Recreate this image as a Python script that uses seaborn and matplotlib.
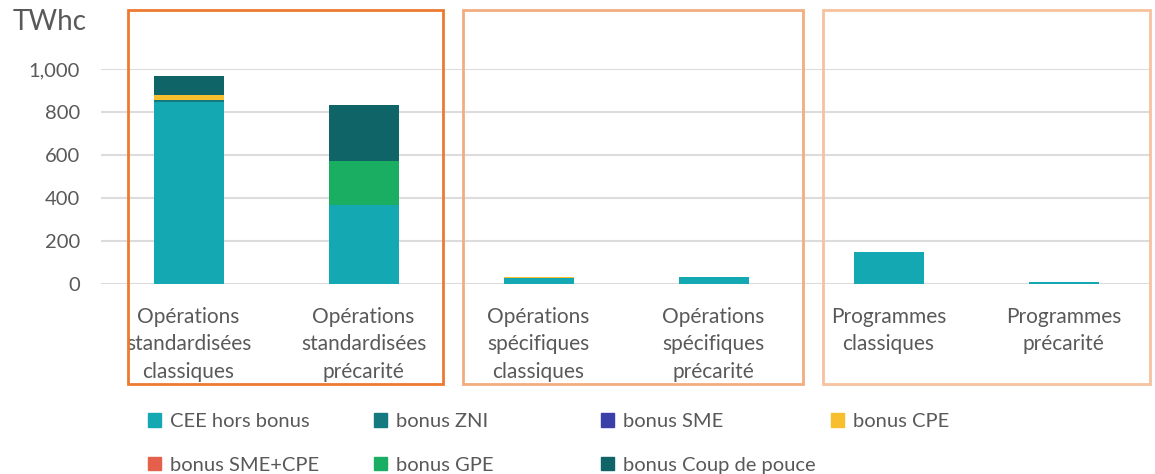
import seaborn as sns
import numpy as np
import pandas as pd
import matplotlib.pyplot as plt
from matplotlib.patches import Rectangle, Patch

# données (TWhc)
categories = ["Opérations\nstandardisées\nclassiques", "Opérations\nstandardisées\nprécarité",
              "Opérations\nspécifiques\nclassiques", "Opérations\nspécifiques\nprécarité",
              "Programmes\nclassiques", "Programmes\nprécarité"]
cee_hors_bonus = [848, 367, 28, 33, 150, 10]
bonus_zni = [8, 0, 0, 0, 0, 0]
bonus_sme = [0, 0, 0, 0, 0, 0]
bonus_cpe = [24, 0, 3, 0, 0, 0]
bonus_sme_cpe = [0, 0, 0, 0, 0, 0]
bonus_gpe = [0, 203, 0, 0, 0, 0]
bonus_coup_de_pouce = [88, 264, 0, 0, 0, 0]

series_names = ["CEE hors bonus", "bonus ZNI", "bonus SME", "bonus CPE",
                "bonus SME+CPE", "bonus GPE", "bonus Coup de pouce"]
series_values = [cee_hors_bonus, bonus_zni, bonus_sme, bonus_cpe,
                 bonus_sme_cpe, bonus_gpe, bonus_coup_de_pouce]
colors = ["#14a9b2", "#147a80", "#3b3fa8", "#f7bf2e", "#e5604a", "#1aae63", "#0f6467"]

df = pd.DataFrame(dict(zip(series_names, series_values)), index=categories)
cum = df.cumsum(axis=1)

plt.rcParams['font.family'] = ['Lato', 'DejaVu Sans']
grey = "#595959"

fig = plt.figure(figsize=(11.55, 4.74), dpi=100)
ax = fig.add_axes([101 / 1155, 1 - 284 / 474, 1050 / 1155, 215 / 474])

# empilement : on dessine les cumuls du haut vers le bas
for name, c in reversed(list(zip(series_names, colors))):
    sns.barplot(x=categories, y=cum[name].values, color=c, width=0.4,
                saturation=1, linewidth=0, errorbar=None, ax=ax, zorder=3)

ax.set_ylim(0, 1000)
ax.set_xlim(-0.5, 5.5)
ax.set_yticks(range(0, 1001, 200))
ax.set_yticklabels([f"{v:,}" for v in range(0, 1001, 200)])
ax.yaxis.grid(True, color="#dcdcdc", lw=1.5, zorder=0)
ax.set_axisbelow(True)
for s in ax.spines.values():
    s.set_visible(False)
ax.tick_params(axis="y", length=0, pad=15, labelsize=14.5, labelcolor=grey)
ax.tick_params(axis="x", length=0, pad=16.5, labelsize=15, labelcolor=grey)
for t in ax.get_xticklabels():
    t.set_linespacing(1.46)
ax.set_xlabel("")

fig.text(13 / 1155, 1 - 22 / 474, "TWhc", fontsize=20, color=grey, va="center", ha="left")

# cadres orange
boxes = [(128, 443, "#ec7a30"), (463, 803, "#f2ad80"), (823, 1150, "#f6c29e")]
for x0, x1, ec in boxes:
    fig.patches.append(Rectangle((x0 / 1155, 1 - 384 / 474), (x1 - x0) / 1155, 374 / 474,
                                 transform=fig.transFigure, fill=False, ec=ec, lw=2))

# légende en 4 colonnes
handles = [Patch(color=c, label=n) for n, c in zip(series_names, colors)]
col_x = [138, 364, 591, 821]
for i, x in enumerate(col_x):
    hs = [handles[i]] + ([handles[i + 4]] if i + 4 < len(handles) else [])
    fig.legend(handles=hs, loc="upper left", bbox_to_anchor=(x / 1155, 1 - 403 / 474),
               frameon=False, borderpad=0, handlelength=0.65, handleheight=0.65,
               handletextpad=0.45, labelspacing=1.32, fontsize=14.5, labelcolor=grey)

fig.savefig("out.png", dpi=100)
